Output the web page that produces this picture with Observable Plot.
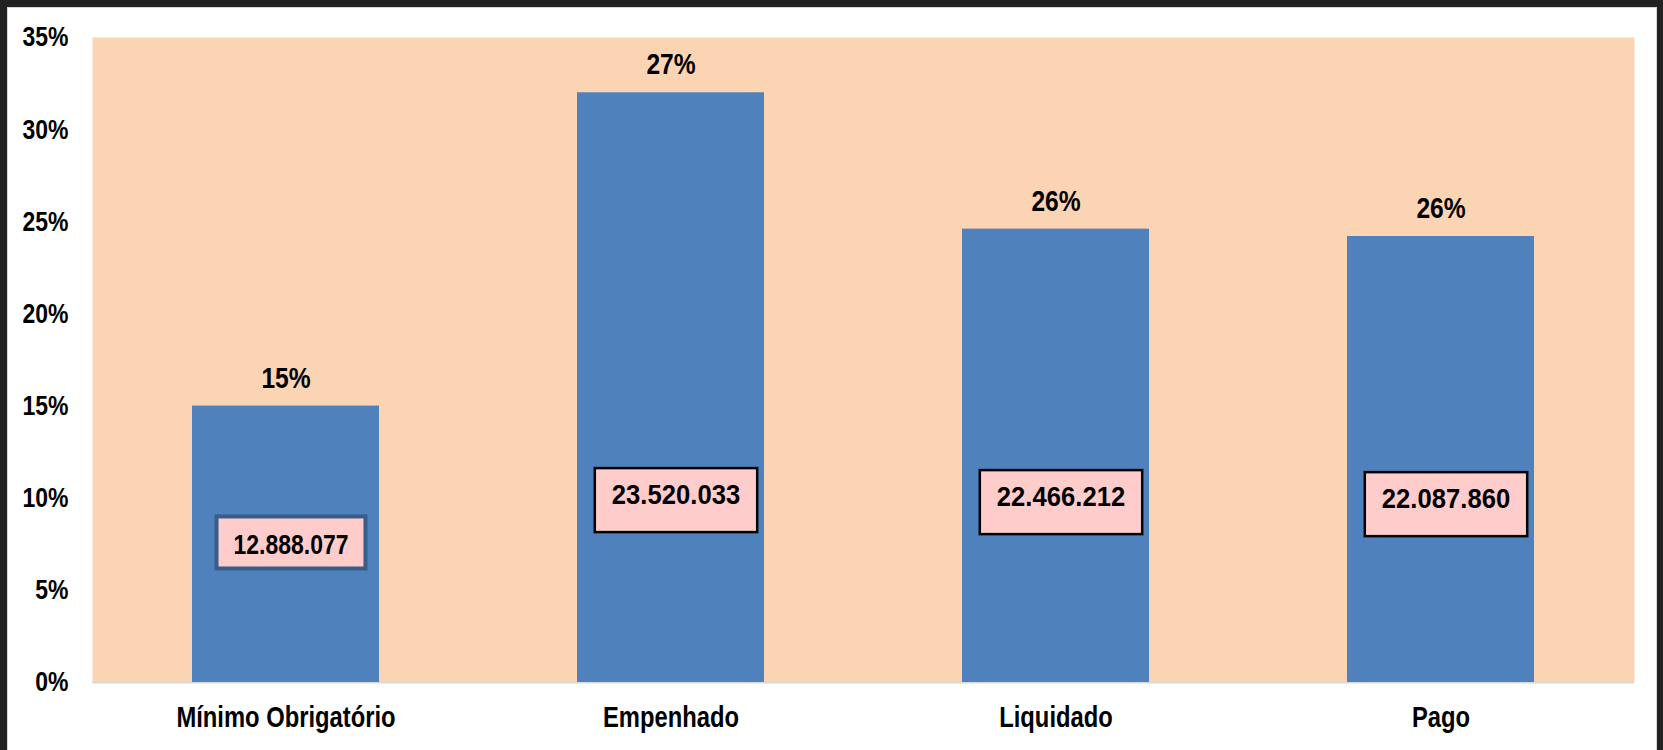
<!DOCTYPE html>
<html>
<head>
<meta charset="utf-8">
<script src="https://cdn.jsdelivr.net/npm/d3@7"></script>
<script src="https://cdn.jsdelivr.net/npm/@observablehq/plot@0.6"></script>
<style>
  html, body { margin: 0; padding: 0; background: #222222; width: 1663px; height: 750px; overflow: hidden; }
  #panel { position: absolute; left: 7px; top: 7px; width: 1650px; height: 750px; background: #ffffff; border: 1px solid #d6d6d6; box-sizing: border-box; }
  #chart { position: absolute; left: 0; top: 0; }
  #chart svg { display: block; background: transparent; }
</style>
</head>
<body>
<div id="panel"></div>
<div id="chart"></div>
<script>
// ---- data ----
const categories = ["Mínimo Obrigatório", "Empenhado", "Liquidado", "Pago"];
const barValues = [15.0, 32.0, 24.6, 24.2];          // bar heights (%)
const pctLabels = ["15%", "27%", "26%", "26%"];       // labels printed above the bars
const amountLabels = ["12.888.077", "23.520.033", "22.466.212", "22.087.860"];
const amountLabelY = [7.46, 10.15, 10.04, 9.93];      // where each amount label sits (%)
const yTicks = [0, 5, 10, 15, 20, 25, 30, 35];

const font = "'Liberation Sans', Arial, sans-serif";
const NARROW = 0.82;

const rows = categories.map((c, i) => ({
  cat: c, value: barValues[i], pct: pctLabels[i], amount: amountLabels[i], ay: amountLabelY[i], first: i === 0
}));

const plot = Plot.plot({
  width: 1663,
  height: 750,
  marginLeft: 92,
  marginRight: 29,
  marginTop: 37,
  marginBottom: 68,
  style: { background: "transparent", color: "#000", fontFamily: font },
  x: { domain: categories, paddingInner: 0.515, paddingOuter: 0.2575, label: null },
  y: { domain: [0, 35], label: null },
  marks: [
    Plot.frame({ fill: "#FBD4B4", stroke: null }),
    Plot.ruleY([0], { stroke: "#d9d9d9", strokeWidth: 2 }),
    Plot.barY(rows, { x: "cat", y: "value", fill: "#4F81BD" }),
    Plot.text(rows, { x: "cat", y: "value", text: "pct", dy: -28, fontSize: 30, fontWeight: "bold", fill: "#000", className: "pct-label" }),
    Plot.text(rows.filter(d => !d.first), { x: "cat", y: "ay", text: "amount", dx: 5, fontSize: 27, fontWeight: "bold", fill: "#000", className: "amount-box" }),
    Plot.text(rows.filter(d => d.first), { x: "cat", y: "ay", text: "amount", dx: 5, fontSize: 28, fontWeight: "bold", fill: "#000", className: "amount-box-first" }),
    Plot.axisY({ ticks: yTicks, tickFormat: d => d + "%", tickSize: 0, tickPadding: 24, fontSize: 28, fontWeight: "bold", label: null }),
    Plot.axisX({ tickSize: 0, tickPadding: 24, fontSize: 29, fontWeight: "bold", label: null })
  ]
});

document.getElementById("chart").appendChild(plot);

// horizontally condense text (the reference uses a narrow face)
function condense(t, s) {
  const bb = t.getBBox();
  const anchor = getComputedStyle(t).textAnchor;
  const ax = anchor === "end" ? bb.x + bb.width : anchor === "start" ? bb.x : bb.x + bb.width / 2;
  const tr = t.getAttribute("transform") || "";
  t.setAttribute("transform", `${tr} translate(${ax},0) scale(${s},1) translate(${-ax},0)`.trim());
}

// draw the pink label boxes behind the amount texts
function boxes(cls, stroke, sw, scale, padTop, padExtra) {
  plot.querySelectorAll("." + cls + " text").forEach(t => {
    const bb = t.getBBox();
    const anchor = getComputedStyle(t).textAnchor;
    const cx = bb.x + bb.width / 2;
    const w = bb.width * scale;
    const padX = 17;
    const rect = document.createElementNS("http://www.w3.org/2000/svg", "rect");
    rect.setAttribute("x", cx - w / 2 - padX);
    rect.setAttribute("y", bb.y - padTop);
    rect.setAttribute("width", w + 2 * padX);
    rect.setAttribute("height", bb.height + padExtra);
    rect.setAttribute("fill", "#FFCCCC");
    rect.setAttribute("stroke", stroke);
    rect.setAttribute("stroke-width", sw);
    const tr = t.getAttribute("transform");
    if (tr) rect.setAttribute("transform", tr);
    t.parentNode.insertBefore(rect, t);
    if (scale !== 1) condense(t, scale);
  });
}
boxes("amount-box", "#000000", 2.5, 0.95, 12, 34);
boxes("amount-box-first", "#385D8A", 4, NARROW, 12.5, 21);

plot.querySelectorAll(".pct-label text, g[aria-label='y-axis tick label'] text, g[aria-label='x-axis tick label'] text")
  .forEach(t => condense(t, NARROW));
</script>
</body>
</html>
